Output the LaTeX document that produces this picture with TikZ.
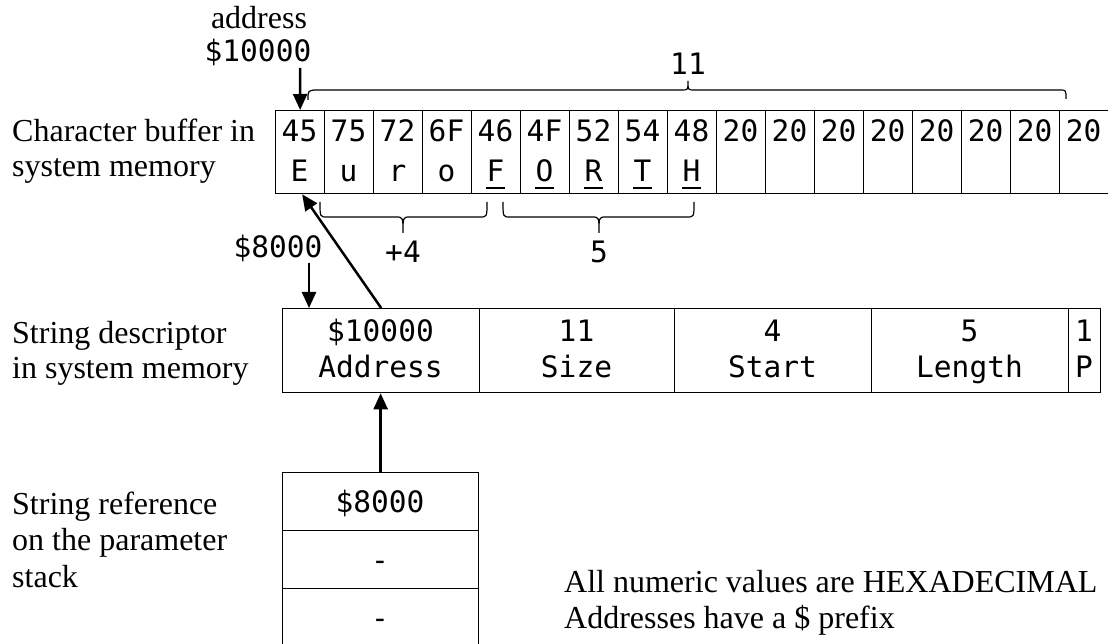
\documentclass[tikz,border=0pt]{standalone}
\usepackage{fontspec}
\setmainfont{Liberation Serif}
\newfontfamily\monofnt{DejaVu Sans Mono}
\usetikzlibrary{arrows.meta}
\begin{document}
\begin{tikzpicture}[x=1pt,y=-1pt,
  lbl/.style={font=\fontsize{32}{36}\selectfont, inner sep=0pt, anchor=base west},
  slbl/.style={font=\fontsize{32}{36}\selectfont, inner sep=0pt, anchor=base},
  mono/.style={font=\monofnt\fontsize{29.5}{33}\selectfont, inner sep=0pt, anchor=base},
  cellbox/.style={draw, line width=1.3pt, minimum width=49pt, minimum height=83pt, inner sep=0pt, anchor=north west},
  descbox/.style={draw, line width=1.3pt, minimum height=84pt, inner sep=0pt, anchor=north west},
  stackbox/.style={draw, line width=1.3pt, minimum width=196pt, minimum height=58pt, inner sep=0pt, anchor=north west},
  arr/.style={line width=2.5pt, -{Triangle[length=16pt,width=14pt]}},
  bracepath/.style={line width=1.2pt},
  uline/.style={line width=1.3pt}
]
\useasboundingbox (0,0) rectangle (1108,644);

% character buffer
\foreach \i/\h in {0/45,1/75,2/72,3/6F,4/46,5/4F,6/52,7/54,8/48,9/20,10/20,11/20,12/20,13/20,14/20,15/20} {
  \node[cellbox] (b\i) at ({275+49*\i},110) {};
  \node[mono] (h\i) at ({299.5+49*\i},142) {\h};
}
\node[cellbox, minimum width=54pt] (b16) at (1059,110) {};
\node[mono] (h16) at (1083.5,142) {20};

\foreach \i/\c in {0/E,1/u,2/r,3/o} {
  \node[mono] (c\i) at ({299.5+49*\i},182) {\c};
}
\foreach \i/\c in {4/F,5/O,6/R,7/T,8/H} {
  \node[mono] (c\i) at ({299.5+49*\i},182) {\c};
  \draw[uline] ([yshift=-6pt]c\i.base west) -- ([yshift=-6pt]c\i.base east);
}

% descriptor
\node[descbox, minimum width=197pt] (d1) at (282,308) {};
\node[descbox, minimum width=195pt] (d2) at (479,308) {};
\node[descbox, minimum width=197pt] (d3) at (674,308) {};
\node[descbox, minimum width=197pt] (d4) at (871,308) {};
\node[descbox, minimum width=32pt] (d5) at (1068,308) {};
\node[mono] (d1a) at (380.5,341) {\$10000};
\node[mono] (d1b) at (380.5,377) {Address};
\node[mono] (d2a) at (576.5,341) {11};
\node[mono] (d2b) at (576.5,377) {Size};
\node[mono] (d3a) at (772.5,341) {4};
\node[mono] (d3b) at (772.5,377) {Start};
\node[mono] (d4a) at (969.5,341) {5};
\node[mono] (d4b) at (969.5,377) {Length};
\node[mono] (d5a) at (1084,341) {1};
\node[mono] (d5b) at (1084,377) {P};

% stack
\node[stackbox] (s1) at (282,472) {};
\node[stackbox] (s2) at (282,530) {};
\node[stackbox] (s3) at (282,588) {};
\node[mono] (s1t) at (380,512) {\$8000};
\node[mono] (s2t) at (380,570) {-};
\node[mono] (s3t) at (380,628) {-};

% labels
\node[slbl] (addrlbl) at (259,29) {address};
\node[mono] (addrval) at (258,62) {\$10000};
\node[mono] (elevenlbl) at (688,75) {11};
\node[mono] (plusfour) at (403,263) {+4};
\node[mono] (fivelbl) at (599,263) {5};
\node[mono] (eightk) at (278,258) {\$8000};

\node[lbl] (l1a) at (12,142) {Character buffer in};
\node[lbl] (l1b) at (12,177) {system memory};
\node[lbl] (l2a) at (12,343) {String descriptor};
\node[lbl] (l2b) at (12,378) {in system memory};
\node[lbl] (l3a) at (12,514) {String reference};
\node[lbl] (l3b) at (12,550) {on the parameter};
\node[lbl] (l3c) at (12,587) {stack};
\node[lbl] (n1) at (564,592) {All numeric values are HEXADECIMAL};
\node[lbl] (n2) at (564,628) {Addresses have a \$ prefix};

% arrows
\coordinate (addrtail) at (300,68);
\draw[arr] (addrtail) -- (b0.north);
\draw[arr] (d1.north) -- ([xshift=2pt]b0.south);
\coordinate (eighttail) at (309,263);
\draw[arr] (eighttail) -- (eighttail |- d1.north);
\draw[arr] (s1.north) -- (s1.north |- d1.south);

% braces
\draw[bracepath] (308,100) .. controls (308,91) .. (314,90) -- (682,90) .. controls (688,90) .. (688,81) .. controls (688,90) .. (694,90) -- (1060,90) .. controls (1066,90) .. (1066,99);
\draw[bracepath] (320,202) .. controls (320,217) .. (327,217) -- (396,217) .. controls (403,217) .. (403,233) .. controls (403,217) .. (410,217) -- (480,217) .. controls (487,217) .. (487,202);
\draw[bracepath] (503,202) .. controls (503,217) .. (510,217) -- (592,217) .. controls (599,217) .. (599,233) .. controls (599,217) .. (606,217) -- (687,217) .. controls (694,217) .. (694,202);
\end{tikzpicture}
\end{document}
